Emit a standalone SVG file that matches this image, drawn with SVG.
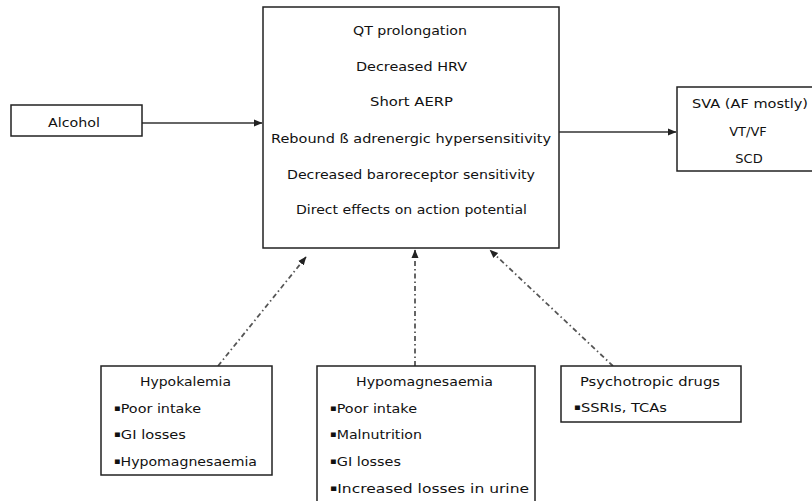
<svg xmlns="http://www.w3.org/2000/svg" width="812" height="501" viewBox="0 0 812 501">
<defs>
<marker id="ah" markerWidth="9" markerHeight="9" refX="8" refY="4.5" orient="auto" markerUnits="userSpaceOnUse">
<path d="M0,1 L8.5,4.5 L0,8 Z" fill="#222"/>
</marker>
<style>
.box{fill:#fff;stroke:#222;stroke-width:1.5}
text{font-family:"DejaVu Sans","Liberation Sans",Arial,sans-serif;font-size:13px;fill:#111}
.b{font-size:9px}
.solid{stroke:#333;stroke-width:1.3;fill:none}
.dash{stroke:#555;stroke-width:1.8;fill:none;stroke-dasharray:5,3,1.5,3}
</style>
</defs>
<rect width="812" height="501" fill="#fff"/>
<g id="connectors">
<line class="solid" x1="142" y1="123" x2="262" y2="123" marker-end="url(#ah)"/>
<line class="solid" x1="559" y1="132" x2="676" y2="132" marker-end="url(#ah)"/>
<line class="dash" x1="218" y1="366" x2="306" y2="257" marker-end="url(#ah)"/>
<line class="dash" x1="415" y1="366" x2="415" y2="250" marker-end="url(#ah)"/>
<line class="dash" x1="613" y1="366" x2="490" y2="250" marker-end="url(#ah)"/>
</g>
<g id="alcohol">
<rect class="box" x="11" y="105" width="131" height="31"/>
<text x="48" y="127" textLength="52" lengthAdjust="spacingAndGlyphs">Alcohol</text>
</g>
<g id="mechanisms">
<rect class="box" x="263" y="7" width="296" height="241"/>
<text x="353" y="35" textLength="114" lengthAdjust="spacingAndGlyphs">QT prolongation</text>
<text x="356" y="71" textLength="111" lengthAdjust="spacingAndGlyphs">Decreased HRV</text>
<text x="370" y="106" textLength="83" lengthAdjust="spacingAndGlyphs">Short AERP</text>
<text x="271" y="143" textLength="280" lengthAdjust="spacingAndGlyphs">Rebound  ß adrenergic hypersensitivity</text>
<text x="287" y="179" textLength="248" lengthAdjust="spacingAndGlyphs">Decreased baroreceptor sensitivity</text>
<text x="296" y="214" textLength="231" lengthAdjust="spacingAndGlyphs">Direct effects on action potential</text>
</g>
<g id="outcomes">
<rect class="box" x="677" y="87" width="145" height="84"/>
<text x="692" y="108" textLength="116" lengthAdjust="spacingAndGlyphs">SVA (AF mostly)</text>
<text x="748" y="136" text-anchor="middle">VT/VF</text>
<text x="749" y="163" text-anchor="middle">SCD</text>
</g>
<g id="hypokalemia">
<rect class="box" x="101" y="366" width="171" height="109"/>
<text x="140" y="386" textLength="91" lengthAdjust="spacingAndGlyphs">Hypokalemia</text>
<text x="114" y="413" textLength="87" lengthAdjust="spacingAndGlyphs"><tspan class="b" dy="-2">▪</tspan><tspan dy="2">Poor intake</tspan></text>
<text x="114" y="439" textLength="72" lengthAdjust="spacingAndGlyphs"><tspan class="b" dy="-2">▪</tspan><tspan dy="2">GI losses</tspan></text>
<text x="114" y="466" textLength="143" lengthAdjust="spacingAndGlyphs"><tspan class="b" dy="-2">▪</tspan><tspan dy="2">Hypomagnesaemia</tspan></text>
</g>
<g id="hypomagnesaemia">
<rect class="box" x="317" y="366" width="218" height="145"/>
<text x="356" y="386" textLength="137" lengthAdjust="spacingAndGlyphs">Hypomagnesaemia</text>
<text x="330" y="413" textLength="87" lengthAdjust="spacingAndGlyphs"><tspan class="b" dy="-2">▪</tspan><tspan dy="2">Poor intake</tspan></text>
<text x="330" y="439" textLength="92" lengthAdjust="spacingAndGlyphs"><tspan class="b" dy="-2">▪</tspan><tspan dy="2">Malnutrition</tspan></text>
<text x="330" y="466" textLength="71" lengthAdjust="spacingAndGlyphs"><tspan class="b" dy="-2">▪</tspan><tspan dy="2">GI losses</tspan></text>
<text x="330" y="493" textLength="199" lengthAdjust="spacingAndGlyphs"><tspan class="b" dy="-2">▪</tspan><tspan dy="2">Increased losses in urine</tspan></text>
</g>
<g id="psychotropic">
<rect class="box" x="561" y="366" width="180" height="56"/>
<text x="580" y="386" textLength="140" lengthAdjust="spacingAndGlyphs">Psychotropic drugs</text>
<text x="574" y="412" textLength="93" lengthAdjust="spacingAndGlyphs"><tspan class="b" dy="-2">▪</tspan><tspan dy="2">SSRIs, TCAs</tspan></text>
</g>
</svg>
